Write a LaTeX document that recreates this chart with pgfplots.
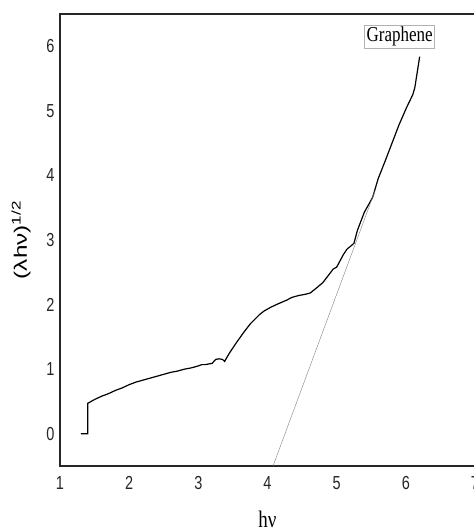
\documentclass[border=0pt]{standalone}
\usepackage{fontspec}
\setmainfont{Liberation Serif}
\setsansfont{Liberation Sans}
\usepackage{pgfplots}
\pgfplotsset{compat=1.18}
\usetikzlibrary{calc}
\begin{document}
\begin{tikzpicture}
\begin{axis}[
  scale only axis,
  width=415pt, height=452pt,
  xmin=1, xmax=7, ymin=-0.5, ymax=6.5,
  xtick={1,2,3,4,5,6,7},
  ytick={0,1,2,3,4,5,6},
  major tick length=0pt,
  axis line style={line width=1.4pt, black!85},
  xticklabel={\scalebox{1}[1.3]{\pgfmathprintnumber{\tick}}},
  yticklabel={\scalebox{1}[1.3]{\pgfmathprintnumber{\tick}}},
  /pgf/number format/assume math mode=true,
  ticklabel style={font=\sffamily\fontsize{14.5}{16}\selectfont, text=black!85},
  xticklabel style={yshift=-7pt},
  yticklabel style={xshift=-2pt},
  xlabel={\scalebox{1}[1.25]{hν}},
  xlabel style={font=\fontsize{19}{21}\selectfont, yshift=-14pt},
  ylabel={\scalebox{1.35}[1]{(λhν)\textsuperscript{1/2}}},
  ylabel style={font=\sffamily\fontsize{18}{20}\selectfont, yshift=9pt},
  clip=false,
]
\addplot[black, line width=1.2pt] coordinates {
(1.30,0)(1.40,0)(1.40,0.47)(1.45,0.50)(1.5,0.53)(1.6,0.58)(1.7,0.62)(1.8,0.67)(1.9,0.71)(2.0,0.76)(2.1,0.80)(2.2,0.83)(2.3,0.86)(2.4,0.89)(2.5,0.92)(2.6,0.95)(2.7,0.97)(2.8,1.00)(2.9,1.02)(3.0,1.05)(3.05,1.07)(3.1,1.07)(3.2,1.09)(3.25,1.15)(3.3,1.16)(3.35,1.15)(3.38,1.12)(3.45,1.25)(3.55,1.41)(3.65,1.56)(3.75,1.70)(3.88,1.84)(3.95,1.90)(4.05,1.96)(4.15,2.01)(4.28,2.07)(4.35,2.11)(4.45,2.14)(4.55,2.16)(4.62,2.18)(4.7,2.25)(4.8,2.34)(4.9,2.48)(4.95,2.55)(5.0,2.58)(5.05,2.68)(5.1,2.78)(5.15,2.86)(5.22,2.92)(5.25,2.95)(5.3,3.15)(5.4,3.43)(5.52,3.66)(5.6,3.95)(5.7,4.22)(5.8,4.50)(5.9,4.78)(6.01,5.05)(6.1,5.25)(6.13,5.36)(6.2,5.84)
};
\addplot[gray, line width=0.4pt] coordinates {(4.08,-0.5)(5.55,3.75)};
\node[draw=black!30, fill=white, font=\fontsize{17}{19}\selectfont, inner sep=2pt] at (axis cs:5.91,6.15) {\scalebox{1}[1.25]{Graphene}};
\end{axis}
\pgfresetboundingbox
\path ($(current axis.south west)+(-60pt,-65pt)$) rectangle ($(current axis.north east)+(-2pt,14pt)$);
\end{tikzpicture}
\end{document}
